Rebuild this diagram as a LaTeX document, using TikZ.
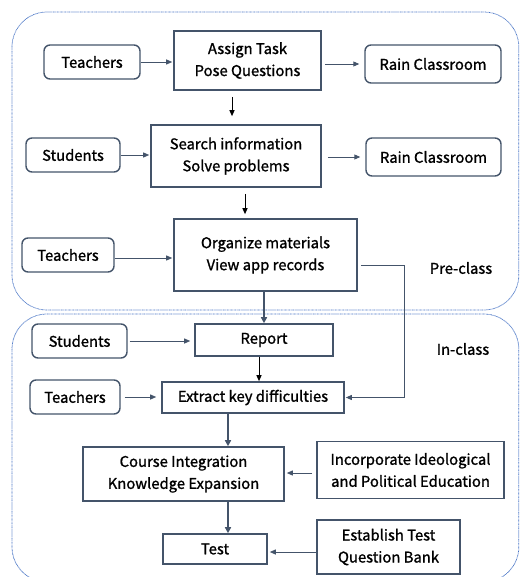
\documentclass[tikz,border=0pt]{standalone}
\usepackage{fontspec}
\setmainfont{Noto Sans CJK SC}[FakeBold=1.2]
\usetikzlibrary{arrows.meta,calc}
\definecolor{slate}{HTML}{44546A}
\definecolor{dotblue}{HTML}{4472C4}
\begin{document}
\begin{tikzpicture}[x=1pt,y=-1pt,
  font=\fontsize{14.8}{22}\selectfont,
  rbox/.style={draw=slate,line width=1.4pt,rounded corners=6pt,inner sep=0pt,align=center},
  sbox/.style={draw=slate,line width=1.6pt,inner sep=0pt,align=center},
  conn/.style={draw=slate,line width=0.9pt,-{Triangle[length=6pt,width=5pt]}},
  thick conn/.style={draw=slate,line width=1.6pt,-{Triangle[length=6pt,width=6pt]}},
  black conn/.style={draw=black,line width=1pt,-{Triangle[length=6pt,width=5pt]}},
  region/.style={draw=dotblue,line width=0.75pt,dash pattern=on 0.75pt off 0.6pt,rounded corners=35pt}]
\useasboundingbox (0,0) rectangle (520,577);
\clip (0,0) rectangle (520,577);
% regions
\draw[region] (12,12) rectangle (518.8,310);
\draw[region] (12,314) rectangle (518.8,582);
% nodes
\node[rbox,minimum width=96pt,minimum height=34pt] (t1) at (92,62) {Teachers};
\node[sbox,minimum width=147pt,minimum height=59pt] (assign) at (247.5,60.5) {Assign Task\\Pose Questions};
\node[rbox,minimum width=136pt,minimum height=38pt] (rain1) at (433,64) {Rain Classroom};
\node[rbox,minimum width=94pt,minimum height=34pt] (s1) at (73,155) {Students};
\node[sbox,minimum width=170pt,minimum height=62pt] (search) at (236,156) {Search information\\Solve problems};
\node[rbox,minimum width=135pt,minimum height=38pt] (rain2) at (433.5,157) {Rain Classroom};
\node[rbox,minimum width=92pt,minimum height=34pt] (t3) at (68,255) {Teachers};
\node[sbox,minimum width=183pt,minimum height=72pt] (org) at (265.5,255) {Organize materials\\View app records};
\node (pre) at (461,268) {Pre-class};
\node[rbox,minimum width=95pt,minimum height=34pt] (s2) at (79.5,341) {Students};
\node[sbox,minimum width=138pt,minimum height=32pt] (report) at (264,340) {Report};
\node (in) at (463,349) {In-class};
\node[rbox,minimum width=90pt,minimum height=34pt] (t4) at (75,397) {Teachers};
\node[sbox,minimum width=182pt,minimum height=31pt] (extract) at (253,397.5) {Extract key difficulties};
\node[sbox,minimum width=201pt,minimum height=54pt] (course) at (183.5,474) {Course Integration\\Knowledge Expansion};
\node[sbox,minimum width=187pt,minimum height=57pt] (incorp) at (410.5,470) {Incorporate Ideological\\and Political Education};
\node[sbox,minimum width=104pt,minimum height=30pt] (test) at (215,549) {Test};
\node[sbox,minimum width=143pt,minimum height=54pt] (establish) at (388.5,547) {Establish Test\\Question Bank};
% connectors
\draw[conn,shorten >=1pt] (t1.east) -- (t1.east -| assign.west);
\draw[conn,shorten <=3pt,shorten >=5pt] (assign.east |- rain1.west) -- (rain1.west);
\draw[black conn,shorten <=6pt,shorten >=8pt] ([xshift=-15.5pt]assign.south) -- ([xshift=-15.5pt]assign.south |- search.north);
\draw[conn,shorten >=1pt] (s1.east) -- (s1.east -| search.west);
\draw[conn,shorten <=6pt,shorten >=5pt] (search.east |- rain2.west) -- (rain2.west);
\draw[black conn,shorten <=6pt,shorten >=4pt] ([xshift=9pt]search.south) -- ([xshift=9pt]search.south |- org.north);
\draw[conn,shorten >=1pt] ([yshift=-3pt]t3.east) -- ([yshift=-3pt]t3.east -| org.west);
\coordinate (c1) at (404,397.5);
\draw[conn,shorten <=3pt,shorten >=1pt] ([yshift=-10pt]org.east) -| (c1) -- (extract.east);
\draw[thick conn] ([xshift=-1.5pt]org.south) -- (report.north);
\draw[conn,shorten <=2pt,shorten >=4pt] (s2.east) -- (s2.east -| report.west);
\draw[black conn] ([xshift=-5pt]report.south) -- ([xshift=-5pt]report.south |- extract.north);
\draw[conn,shorten <=4pt,shorten >=5pt] (t4.east) -- (t4.east -| extract.west);
\draw[thick conn] ([xshift=-25pt]extract.south) -- ([xshift=-25pt]extract.south |- course.north);
\draw[conn,shorten <=4pt,shorten >=2pt] ([yshift=-3pt]incorp.west) -- ([yshift=-3pt]incorp.west -| course.east);
\draw[thick conn] ([xshift=44.5pt]course.south) -- ([xshift=44.5pt]course.south |- test.north);
\draw[conn,shorten >=2pt] ([yshift=-3pt]test.east -| establish.west) -- ([yshift=-3pt]test.east);
\end{tikzpicture}
\end{document}
